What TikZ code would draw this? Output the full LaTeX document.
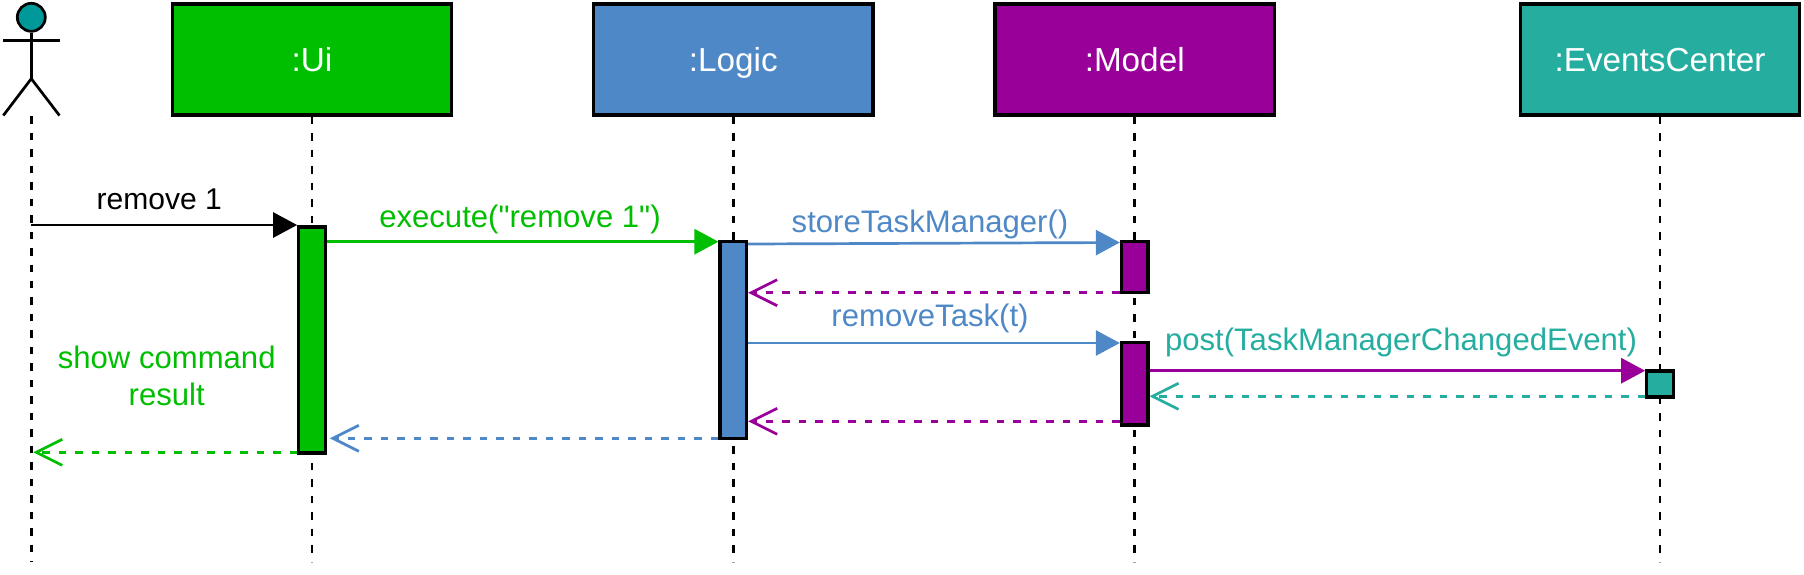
\documentclass[tikz,border=0pt]{standalone}
\usepackage{fontspec}
\setmainfont{Liberation Sans}
\newfontfamily\msgfont{Liberation Sans}
\usetikzlibrary{arrows.meta}
\definecolor{uicol}{HTML}{00BE00}
\definecolor{logiccol}{HTML}{4F88C7}
\definecolor{modelcol}{HTML}{990099}
\definecolor{eventcol}{HTML}{25ADA0}
\definecolor{headcol}{HTML}{009999}
\tikzset{
	lifebox/.style={draw, rectangle, line width=0.032cm, minimum width=2.795cm, minimum height=1.11cm, inner sep=0pt, text=white, text height=0.24cm, text depth=0pt, font=\fontsize{9.47}{11}\selectfont},
	bar/.style={draw, rectangle, line width=0.032cm, minimum width=0.265cm, inner sep=0pt},
	lifeline/.style={line width=0.027cm, dash pattern=on 0.075cm off 0.09cm},
	actorline/.style={line width=0.027cm},
	call/.style={line width=0.027cm, -{Triangle[length=0.24cm,width=0.25cm]}},
	reply/.style={line width=0.027cm, dash pattern=on 0.075cm off 0.09cm, -{Straight Barb[length=0.26cm,width=0.26cm]}},
	msg/.style={anchor=base, inner sep=0pt, align=center, font=\msgfont\fontsize{8.85}{10.5}\selectfont}
}
\begin{document}
\begin{tikzpicture}
	\useasboundingbox (0,0) rectangle (18.04,-5.74);
	% actor
	\node[draw, circle, line width=0.027cm, fill=headcol, minimum size=0.28cm, inner sep=0pt] (Head)at(0.313, -0.173) {};
	\coordinate (ArmL)at(0.033, -0.407);
	\coordinate (ArmR)at(0.595, -0.407);
	\coordinate (Hip)at(0.313, -0.787);
	\coordinate (FootL)at(0.033, -1.155);
	\coordinate (FootR)at(0.595, -1.155);
	\draw[actorline] (Head) -- (Hip);
	\draw[actorline] (ArmL) -- (ArmR);
	\draw[actorline] (FootL) -- (Hip) -- (FootR);
	% boxes
	\node[lifebox, fill=uicol] (Ui)at(3.12, -0.594) {:Ui};
	\node[lifebox, fill=logiccol] (Logic)at(7.333, -0.594) {:Logic};
	\node[lifebox, fill=modelcol] (Model)at(11.347, -0.594) {:Model};
	\node[lifebox, fill=eventcol] (Events)at(16.6, -0.594) {:EventsCenter};
	% lifelines
	\coordinate (ActorTop)at(0.313, -1.16);
	\coordinate (ActorEnd)at(0.313, -5.62);
	\coordinate (UiEnd)at(3.12, -5.62);
	\coordinate (LogicEnd)at(7.333, -5.62);
	\coordinate (ModelEnd)at(11.347, -5.62);
	\coordinate (EventsEnd)at(16.6, -5.62);
	\draw[lifeline] (ActorTop) -- (ActorEnd);
	\draw[lifeline] (Ui) -- (UiEnd);
	\draw[lifeline] (Logic) -- (LogicEnd);
	\draw[lifeline] (Model) -- (ModelEnd);
	\draw[lifeline] (Events) -- (EventsEnd);
	% activation bars
	\node[bar, fill=uicol, minimum height=2.26cm] (UiBar)at(3.12, -3.4) {};
	\node[bar, fill=logiccol, minimum height=1.97cm] (LogicBar)at(7.333, -3.402) {};
	\node[bar, fill=modelcol, minimum height=0.51cm] (ModelBarA)at(11.347, -2.672) {};
	\node[bar, fill=modelcol, minimum height=0.823cm] (ModelBarB)at(11.347, -3.838) {};
	\node[bar, fill=eventcol, minimum height=0.26cm] (EventsBar)at(16.6, -3.84) {};
	% message rows
	\coordinate (R1)at(0, -2.25);
	\coordinate (R2)at(0, -2.417);
	\coordinate (R3)at(0, -2.44);
	\coordinate (R3b)at(0, -2.425);
	\coordinate (R4)at(0, -2.927);
	\coordinate (R5)at(0, -3.43);
	\coordinate (R6)at(0, -3.707);
	\coordinate (R7)at(0, -3.963);
	\coordinate (R8)at(0, -4.213);
	\coordinate (R9)at(0, -4.383);
	\coordinate (R10)at(0, -4.523);
	\draw[call, black] (ActorTop |- R1) -- (UiBar.west |- R1);
	\draw[call, uicol] (UiBar.east |- R2) -- (LogicBar.west |- R2);
	\draw[call, logiccol] (LogicBar.east |- R3) -- (ModelBarA.west |- R3b);
	\draw[reply, modelcol] (ModelBarA.west |- R4) -- (LogicBar.east |- R4);
	\draw[call, logiccol] (LogicBar.east |- R5) -- (ModelBarB.west |- R5);
	\draw[call, modelcol] (ModelBarB.east |- R6) -- (EventsBar.west |- R6);
	\draw[reply, eventcol] (EventsBar.west |- R7) -- (ModelBarB.east |- R7);
	\draw[reply, modelcol] (ModelBarB.west |- R8) -- (LogicBar.east |- R8);
	\draw[reply, logiccol, shorten >=0.03cm] (LogicBar.west |- R9) -- (UiBar.east |- R9);
	\draw[reply, uicol, shorten >=0.02cm] (UiBar.west |- R10) -- (ActorEnd |- R10);
	% labels
	\node[msg, text=black, font=\msgfont\fontsize{8.55}{10.5}\selectfont] (L1)at(1.593, -2.09) {remove 1};
	\node[msg, text=uicol] (L2)at(5.2, -2.27) {execute("remove 1")};
	\node[msg, text=logiccol] (L3)at(9.3, -2.32) {storeTaskManager()};
	\node[msg, text=logiccol] (L4)at(9.3, -3.26) {removeTask(t)};
	\node[msg, text=eventcol] (L5)at(14.01, -3.507) {post(TaskManagerChangedEvent)};
	\node[msg, text=uicol] (L6)at(1.667, -4.053) {show command\\result};
\end{tikzpicture}
\end{document}
